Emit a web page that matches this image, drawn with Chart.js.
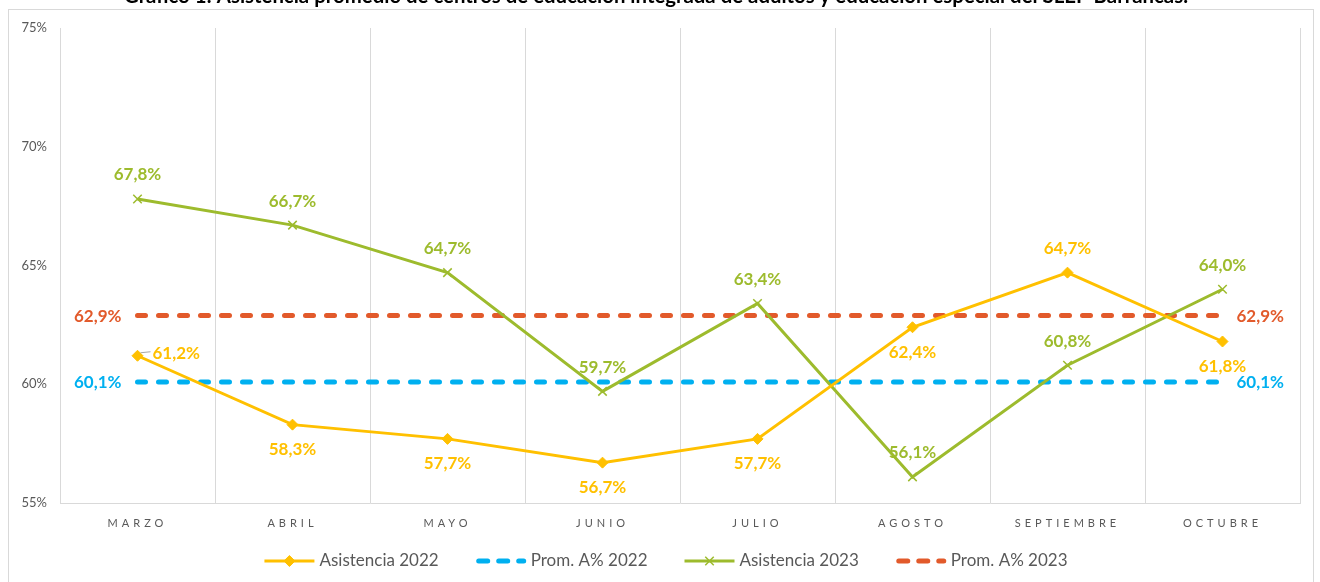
<!DOCTYPE html>
<html>
<head>
<meta charset="utf-8">
<script src="https://cdn.jsdelivr.net/npm/chart.js@4/dist/chart.umd.min.js"></script>
<style>
  html, body { margin: 0; padding: 0; background: #fff; }
  #wrap { width: 1320px; height: 582px; position: relative; }
</style>
</head>
<body>
<div id="wrap"><canvas id="lineChart" width="1320" height="582"></canvas></div>
<script>
var months = ['MARZO', 'ABRIL', 'MAYO', 'JUNIO', 'JULIO', 'AGOSTO', 'SEPTIEMBRE', 'OCTUBRE'];
var asistencia2022 = [61.2, 58.3, 57.7, 56.7, 57.7, 62.4, 64.7, 61.8];
var asistencia2023 = [67.8, 66.7, 64.7, 59.7, 63.4, 56.1, 60.8, 64.0];
var prom2022 = [60.1, 60.1, 60.1, 60.1, 60.1, 60.1, 60.1, 60.1];
var prom2023 = [62.9, 62.9, 62.9, 62.9, 62.9, 62.9, 62.9, 62.9];
var yTicks = [55, 60, 65, 70, 75];
var title = 'Gráfico 1: Asistencia promedio de centros de educación integrada de adultos y educación especial del SLEP Barrancas.';

var YELLOW = '#FFC000';
var GREEN = '#9DBB2D';
var BLUE = '#00B0F0';
var ORANGE = '#E25A2B';
var GREY = '#595959';
var DASH = [8, 13];

// where each point label goes
var pos2022 = ['right', 'below', 'below', 'below', 'below', 'below', 'above', 'below'];
var pos2023 = ['above', 'above', 'above', 'above', 'above', 'above', 'above', 'above'];

function fmt(v) {
    return v.toFixed(1).replace('.', ',') + '%';
}

var frame = {
    id: 'frame',
    beforeDraw: function(chart) {
        var ctx = chart.ctx;
        ctx.save();
        ctx.strokeStyle = '#D9D9D9';
        ctx.lineWidth = 1;
        ctx.strokeRect(8.5, 9.5, 1305, 600);
        ctx.fillStyle = '#000';
        ctx.font = 'bold 20px Lato';
        ctx.textAlign = 'center';
        ctx.textBaseline = 'alphabetic';
        // squeeze the title to the width it has in the reference
        var w = ctx.measureText(title).width;
        ctx.translate(656, 3);
        ctx.scale(1064 / w, 1);
        ctx.fillText(title, 0, 0);
        ctx.restore();
    },
    afterLayout: function(chart) {
        var x = chart.scales.x;
        x.drawLabels = function(area) {
            this.ctx.save();
            this.ctx.letterSpacing = '4px';
            Chart.Scale.prototype.drawLabels.call(this, area);
            this.ctx.restore();
        };
    }
};

var labels = {
    id: 'labels',
    afterDatasetsDraw: function(chart) {
        var ctx = chart.ctx;
        ctx.save();
        ctx.font = 'bold 17px Lato';
        ctx.textBaseline = 'middle';

        var m0 = chart.getDatasetMeta(0).data;
        m0.forEach(function(p, i) {
            ctx.fillStyle = YELLOW;
            var t = fmt(asistencia2022[i]);
            if (pos2022[i] === 'right') {
                ctx.textAlign = 'left';
                ctx.fillText(t, p.x + 15, p.y - 2);
                ctx.strokeStyle = '#A6A6A6';
                ctx.lineWidth = 1;
                ctx.beginPath();
                ctx.moveTo(p.x + 3, p.y - 3);
                ctx.lineTo(p.x + 13, p.y - 4);
                ctx.stroke();
            } else {
                ctx.textAlign = 'center';
                ctx.fillText(t, p.x, pos2022[i] === 'above' ? p.y - 24 : p.y + 25);
            }
        });

        var m2 = chart.getDatasetMeta(2).data;
        m2.forEach(function(p, i) {
            ctx.fillStyle = GREEN;
            ctx.textAlign = 'center';
            ctx.fillText(fmt(asistencia2023[i]), p.x, pos2023[i] === 'above' ? p.y - 24 : p.y + 25);
        });

        [[1, prom2022, BLUE], [3, prom2023, ORANGE]].forEach(function(d) {
            var pts = chart.getDatasetMeta(d[0]).data;
            var first = pts[0], last = pts[pts.length - 1];
            ctx.fillStyle = d[2];
            ctx.textAlign = 'right';
            ctx.fillText(fmt(d[1][0]), first.x - 16, first.y + 1);
            ctx.textAlign = 'left';
            ctx.fillText(fmt(d[1][d[1].length - 1]), last.x + 14, last.y + 1);
        });
        ctx.restore();
    }
};

var legend = {
    id: 'customLegend',
    afterDraw: function(chart) {
        var ctx = chart.ctx;
        ctx.save();
        ctx.font = '17px Lato';
        ctx.textBaseline = 'middle';
        var sampleW = 50, gap = 5, spacing = 37;
        var items = chart.data.datasets;
        var total = 0;
        items.forEach(function(ds, i) {
            total += sampleW + gap + ctx.measureText(ds.label).width;
            if (i < items.length - 1) total += spacing;
        });
        var x = 666 - total / 2;
        var y = 561;
        items.forEach(function(ds) {
            ctx.save();
            ctx.strokeStyle = ds.borderColor;
            ctx.lineWidth = ds.borderWidth;
            if (ds.borderDash) {
                ctx.setLineDash([9, 11]);
                ctx.lineCap = 'round';
                ctx.beginPath();
                ctx.moveTo(x + 3, y);
                ctx.lineTo(x + sampleW - 2, y);
                ctx.stroke();
            } else {
                ctx.beginPath();
                ctx.moveTo(x, y);
                ctx.lineTo(x + sampleW, y);
                ctx.stroke();
                ctx.fillStyle = ds.pointBackgroundColor;
                ctx.strokeStyle = ds.pointBorderColor;
                ctx.lineWidth = ds.pointBorderWidth;
                Chart.helpers.drawPoint(ctx, {
                    pointStyle: ds.pointStyle,
                    radius: ds.pointRadius,
                    borderWidth: ds.pointBorderWidth
                }, x + sampleW / 2, y);
            }
            ctx.restore();
            x += sampleW + gap;
            ctx.fillStyle = GREY;
            ctx.textAlign = 'left';
            ctx.fillText(ds.label, x, y);
            x += ctx.measureText(ds.label).width + spacing;
        });
        ctx.restore();
    }
};

var lineChart = document.getElementById('lineChart').getContext('2d');

var lineChartObj = new Chart(lineChart, {
    type: 'line',
    data: {
        labels: months,
        datasets: [{
            label: 'Asistencia 2022',
            data: asistencia2022,
            borderColor: YELLOW,
            backgroundColor: YELLOW,
            borderWidth: 3,
            pointStyle: 'rectRot',
            pointRadius: 5.5,
            pointBackgroundColor: YELLOW,
            pointBorderColor: YELLOW,
            pointBorderWidth: 1,
            tension: 0,
            order: 1
        }, {
            label: 'Prom. A% 2022',
            data: prom2022,
            borderColor: BLUE,
            backgroundColor: BLUE,
            borderWidth: 5,
            borderDash: DASH,
            borderCapStyle: 'round',
            pointRadius: 0,
            order: 3
        }, {
            label: 'Asistencia 2023',
            data: asistencia2023,
            borderColor: GREEN,
            backgroundColor: GREEN,
            borderWidth: 3,
            pointStyle: 'crossRot',
            pointRadius: 6,
            pointBackgroundColor: GREEN,
            pointBorderColor: GREEN,
            pointBorderWidth: 1.5,
            tension: 0,
            order: 2
        }, {
            label: 'Prom. A% 2023',
            data: prom2023,
            borderColor: ORANGE,
            backgroundColor: ORANGE,
            borderWidth: 5,
            borderDash: DASH,
            borderCapStyle: 'round',
            pointRadius: 0,
            order: 4
        }]
    },
    options: {
        responsive: false,
        animation: false,
        devicePixelRatio: 1,
        layout: {
            padding: { top: 28, left: 0, right: 20, bottom: 39 }
        },
        plugins: {
            legend: { display: false },
            tooltip: { enabled: false }
        },
        scales: {
            x: {
                offset: true,
                grid: { offset: true, color: '#D9D9D9', lineWidth: 1, drawTicks: false },
                border: { color: '#D9D9D9' },
                ticks: { color: GREY, font: { family: 'Lato', size: 11 }, padding: 14, maxRotation: 0 },
                afterFit: function(scale) { scale.height = 40; }
            },
            y: {
                min: 55,
                max: 75,
                afterBuildTicks: function(scale) {
                    scale.ticks = yTicks.map(function(v) { return { value: v }; });
                },
                grid: { display: false, drawTicks: false },
                border: { color: '#D9D9D9' },
                ticks: {
                    color: GREY,
                    font: { family: 'Lato', size: 13 },
                    padding: 13,
                    callback: function(v) { return v + '%'; }
                },
                afterFit: function(scale) { scale.width = 60; }
            }
        }
    },
    plugins: [frame, labels, legend]
});
</script>
</body>
</html>
